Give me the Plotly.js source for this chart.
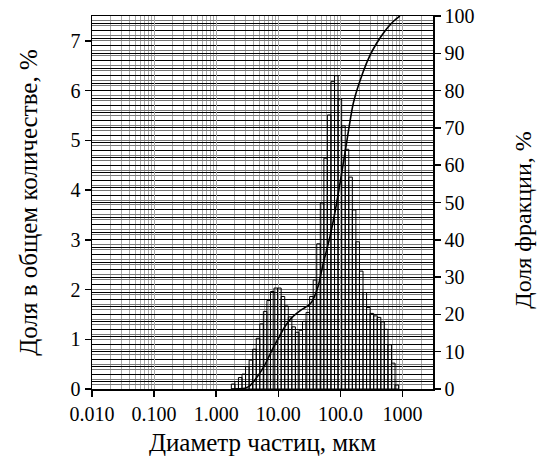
<!DOCTYPE html>
<html>
<head>
<meta charset="utf-8">
<script src="https://cdn.plot.ly/plotly-3.0.1.min.js"></script>
<style>
html,body{margin:0;padding:0;background:#fff;}
#chart{width:539px;height:470px;}
</style>
</head>
<body>
<div id="chart"></div>
<script>
// Size classes (bin centres), µm
const sizes = [1.870, 2.133, 2.434, 2.777, 3.168, 3.615, 4.125, 4.708, 5.372, 6.130,
  6.993, 7.980, 9.106, 10.39, 11.86, 13.53, 15.44, 17.62, 20.10, 22.94,
  26.17, 29.85, 34.07, 38.87, 44.36, 50.61, 57.75, 65.90, 75.19, 85.80,
  97.88, 111.7, 127.4, 145.4, 165.9, 189.3, 216.0, 246.5, 281.2, 320.9,
  366.2, 417.8, 476.7, 543.9, 620.7, 708.2, 808.1];
// Share in total count, %
const counts = [0.10, 0.15, 0.23, 0.30, 0.45, 0.58, 0.80, 1.02, 1.31, 1.56,
  1.78, 1.96, 2.03, 2.03, 1.86, 1.67, 1.45, 1.25, 1.14, 1.18,
  1.36, 1.54, 1.86, 2.19, 2.92, 3.74, 4.64, 5.51, 6.18, 6.30,
  5.83, 5.29, 4.82, 4.26, 3.60, 2.96, 2.37, 1.94, 1.64, 1.52,
  1.47, 1.44, 1.35, 1.20, 0.89, 0.52, 0.08];
// Cumulative fraction curve
const curveX = [1.75, 2.3, 2.89, 3.5, 4.18, 5.0, 6.04, 7.2, 8.75, 10.5, 12.7, 16.2, 19.5, 23.4, 28.0, 34.0, 43.5, 52.9, 67.7, 86.8, 118, 161, 233, 300, 382, 500, 625, 760, 906];
const curveY = [0, 0.05, 0.2, 0.9, 2.4, 4.2, 6.4, 9.0, 11.8, 14.2, 16.7, 19.0, 20.2, 21.2, 22.0, 23.2, 27.4, 33.7, 40.8, 49.8, 63.2, 76.6, 85.1, 89.5, 92.7, 95.6, 97.6, 99.0, 100];
// Tick labels
const xTickVals = [0.01, 0.1, 1, 10, 100, 1000];
const xTickText = ['0.010', '0.100', '1.000', '10.00', '100.0', '1000'];
// Vertical grid positions, µm
const xGridVals = [0.01,0.02,0.03,0.04,0.05,0.06,0.07,0.08,0.09,
  0.1,0.2,0.3,0.4,0.5,0.6,0.7,0.8,0.9,
  1,2,3,4,5,6,7,8,9,
  10,20,30,40,50,60,70,80,90,
  100,200,300,400,500,600,700,800,900,
  1000,2000,3000];

const FONT = 'Liberation Serif, Times New Roman, serif';
const logRange = [-2, 3.49];
const binWidth = 0.0573;
const lg = v => Math.log10(v);

const bars = {
  type: 'bar',
  x: sizes.map(lg),
  y: counts,
  width: binWidth,
  xaxis: 'x', yaxis: 'y',
  marker: {color: 'rgba(0,0,0,0)', line: {color: '#000', width: 1}},
  hoverinfo: 'skip', showlegend: false
};
const curve = {
  type: 'scatter', mode: 'lines',
  x: curveX.map(lg), y: curveY,
  xaxis: 'x', yaxis: 'y2',
  line: {color: '#000', width: 1.6, shape: 'spline', smoothing: 0.6},
  hoverinfo: 'skip', showlegend: false
};

const layout = {
  width: 539, height: 470,
  margin: {l: 92, r: 106, t: 16, b: 81},
  paper_bgcolor: '#fff', plot_bgcolor: '#fff',
  font: {family: FONT, size: 20, color: '#000'},
  showlegend: false,
  bargap: 0,
  xaxis: {
    range: logRange,
    tickmode: 'array',
    tickvals: xTickVals.map(lg), ticktext: xTickText,
    ticks: 'outside', ticklen: 6, tickwidth: 1.5, tickcolor: '#000',
    showline: true, linecolor: '#000', linewidth: 1.5, mirror: true,
    showgrid: true, gridcolor: '#aaa', gridwidth: 1, zeroline: false,
    minor: {tickmode: 'array', tickvals: xGridVals.map(lg), showgrid: true, gridcolor: '#aaa', gridwidth: 1, ticks: ''},
    tickfont: {family: FONT, size: 20},
    title: {text: 'Диаметр частиц, мкм', font: {family: FONT, size: 25}, standoff: 10},
    automargin: false
  },
  yaxis: {
    range: [0, 7.5], dtick: 1, tick0: 0,
    ticks: 'outside', ticklen: 6, tickwidth: 1.5, tickcolor: '#000',
    showline: true, linecolor: '#000', linewidth: 1.5,
    showgrid: true, gridcolor: '#777', gridwidth: 1,
    minor: {dtick: 0.1, showgrid: true, gridcolor: '#777', gridwidth: 1, ticks: ''},
    zeroline: false,
    tickfont: {family: FONT, size: 20},
    title: {text: 'Доля в общем количестве, %', font: {family: FONT, size: 25}, standoff: 26},
    automargin: false
  },
  yaxis2: {
    overlaying: 'y', side: 'right', anchor: 'x',
    range: [0, 100], dtick: 10, tick0: 0,
    ticks: 'outside', ticklen: 6, tickwidth: 1.5, tickcolor: '#000',
    showline: true, linecolor: '#000', linewidth: 1.5,
    showgrid: true, gridcolor: '#000', gridwidth: 1,
    minor: {dtick: 2, showgrid: true, gridcolor: '#000', gridwidth: 1, ticks: ''},
    zeroline: false,
    tickfont: {family: FONT, size: 20},
    automargin: false
  },
  annotations: [{
    text: 'Доля фракции, %', textangle: -90,
    xref: 'paper', yref: 'paper', x: 1.263, y: 0.453,
    xanchor: 'center', yanchor: 'middle', showarrow: false,
    font: {family: FONT, size: 24, color: '#000'}
  }]
};

Plotly.newPlot('chart', [bars, curve], layout, {staticPlot: true, displayModeBar: false});
</script>
</body>
</html>
